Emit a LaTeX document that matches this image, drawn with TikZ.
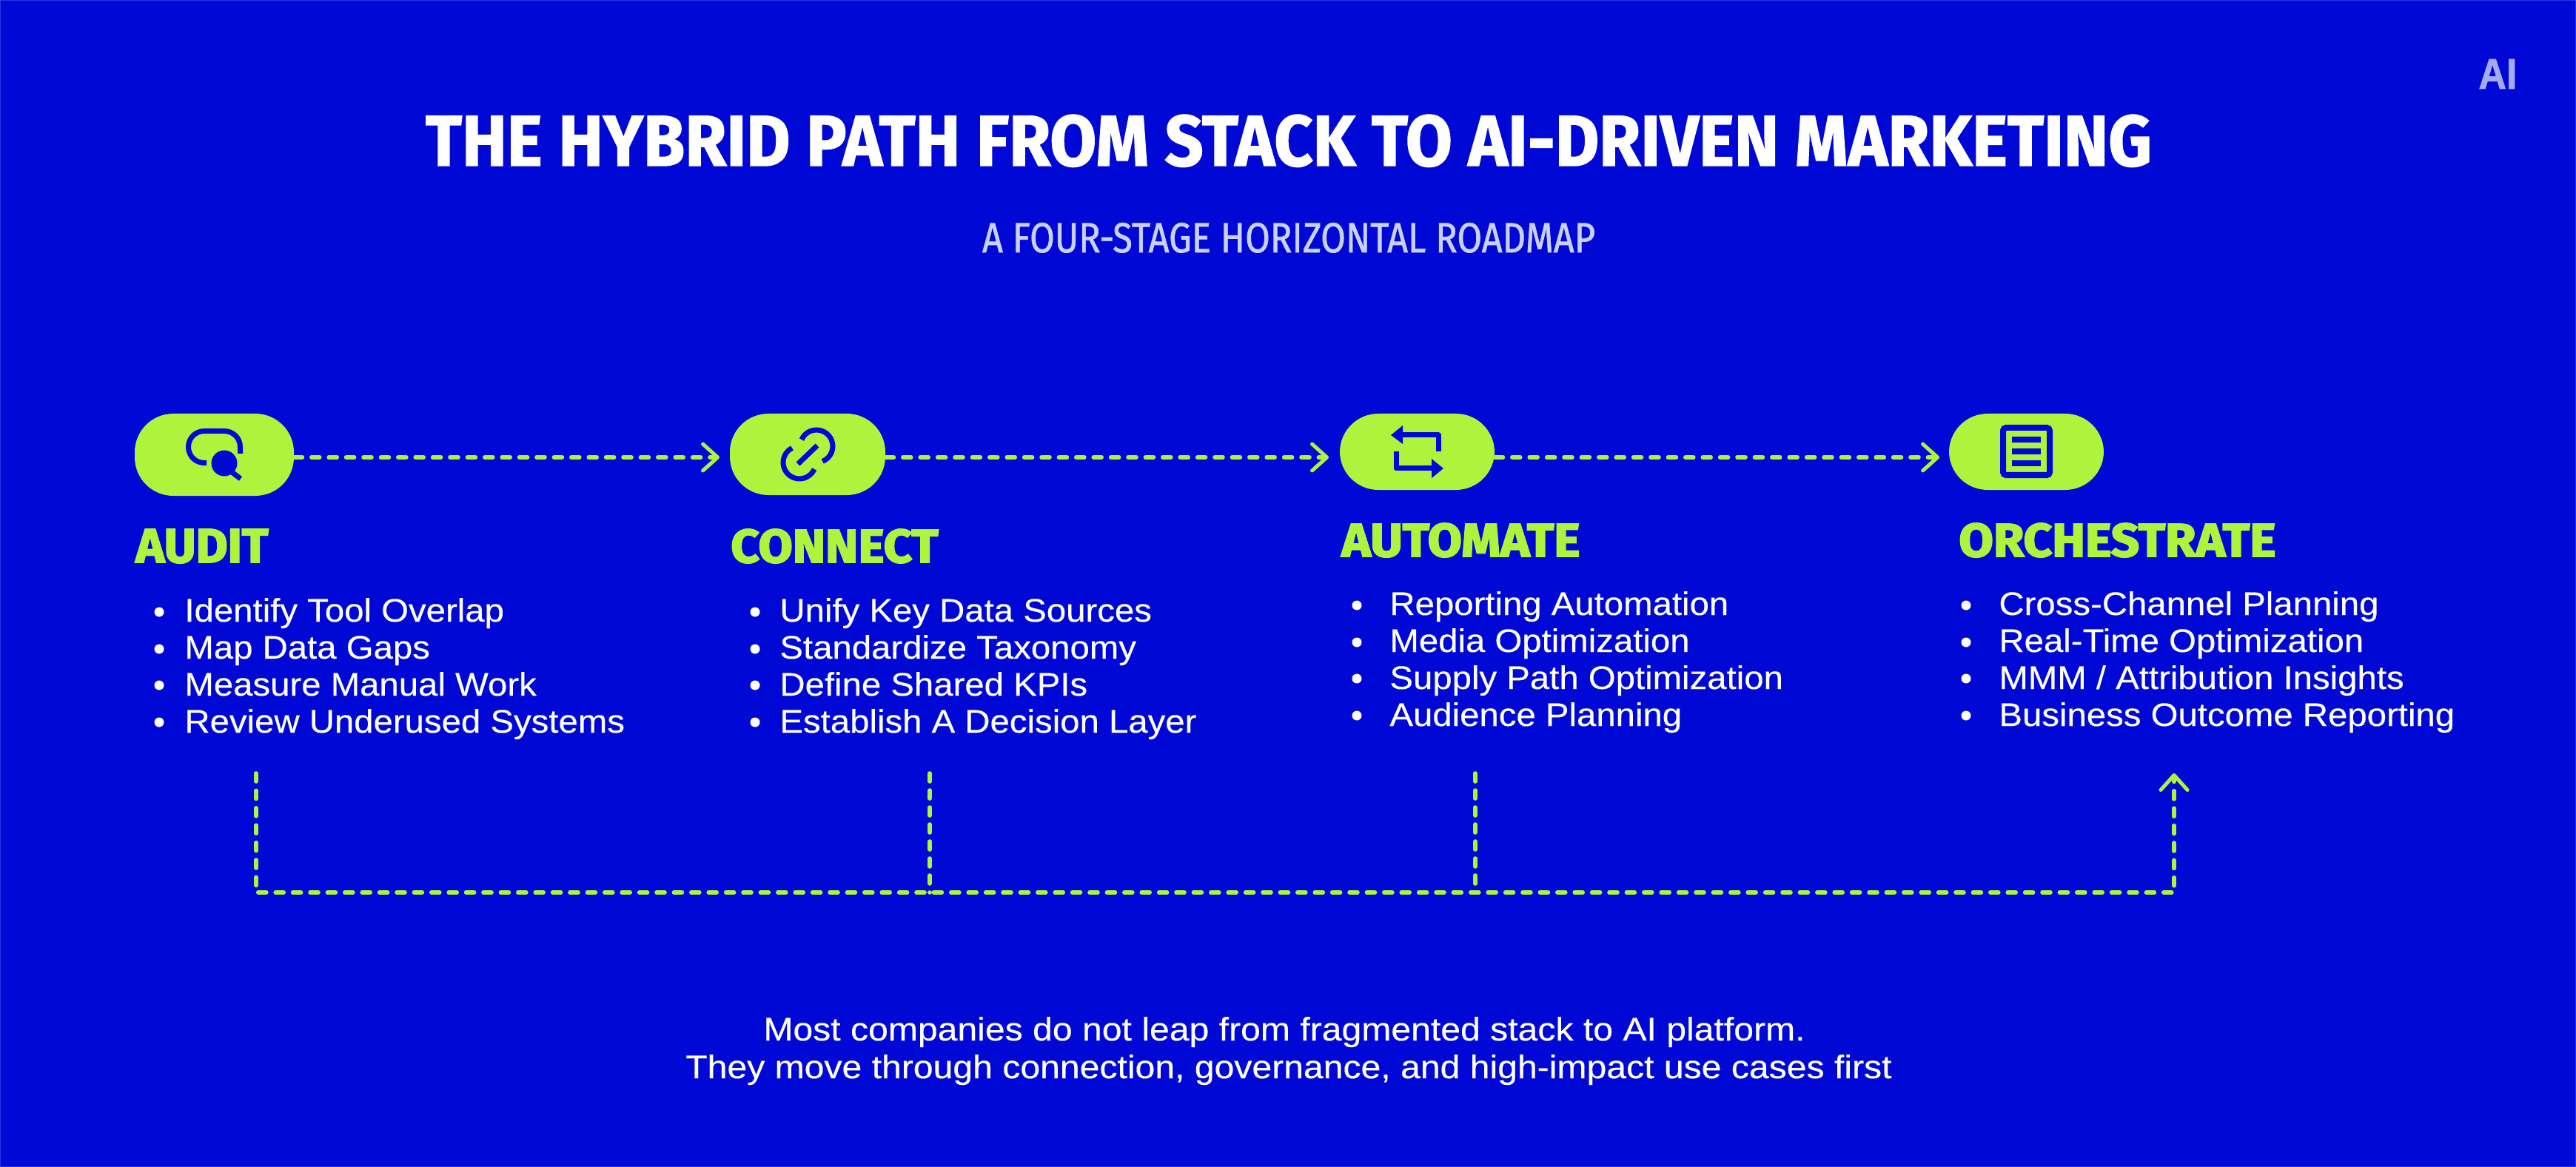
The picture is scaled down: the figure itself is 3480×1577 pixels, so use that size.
\documentclass[tikz,border=0pt]{standalone}
\usepackage{fontspec}
\usepackage{graphicx}
\usetikzlibrary{arrows.meta,calc}
\setmainfont{Liberation Sans}
\newfontfamily\titlef[FakeBold=1.5]{Fira Sans Bold}
\newfontfamily\headf[FakeBold=3]{Fira Sans Bold}
\newfontfamily\subf[FakeBold=1.2]{Fira Sans}
\newfontfamily\bodyf[FakeStretch=1.076,FakeBold=0.3]{Liberation Sans}
\newfontfamily\footf[FakeStretch=1.094,FakeBold=0.3]{Liberation Sans}
\newfontfamily\logof[FakeBold=1.5]{Liberation Sans Bold}
\definecolor{bgblue}{HTML}{0008D6}
\definecolor{edgeblue}{HTML}{2A34E0}
\definecolor{lime}{HTML}{AEF43C}
\definecolor{subcol}{HTML}{C9D0FA}
\definecolor{logocol}{HTML}{A3AAF2}
\newcommand{\fit}[3]{\resizebox{\dimexpr#1pt/2\relax}{\dimexpr#2pt/2\relax}{#3}}
\tikzset{
  pill/.style={fill=lime,draw=none,rounded corners=26pt,inner sep=0pt},
  flow/.style={draw=lime,line width=2.8pt,line cap=round,dash pattern=on 5.5pt off 6.2pt,
     -{Straight Barb[length=10pt,width=18pt,round,line width=2.5pt]}},
  branch/.style={draw=lime,line width=2.8pt,line cap=round,dash pattern=on 5.5pt off 6pt},
  head/.style={anchor=base west,inner sep=0pt,text=lime,font=\headf},
  item/.style={anchor=base west,inner sep=0pt,text=white,font=\bodyf\fontsize{22}{26}\selectfont},
  dot/.style={circle,fill=white,inner sep=0pt,minimum size=6.5pt},
  foot/.style={anchor=base,inner sep=0pt,text=white,font=\footf\fontsize{22}{26}\selectfont},
  ico/.style={draw=bgblue,line width=3.5pt},
  icofill/.style={fill=bgblue,draw=none},
}
\begin{document}
\begin{tikzpicture}[x=0.5pt,y=-0.5pt]
\useasboundingbox (0,0) rectangle (3480,1577);
\fill[bgblue] (0,0) rectangle (3480,1577);
\draw[edgeblue,line width=1pt] (0,0) rectangle (3480,1577);

% titles
\node[anchor=base,inner sep=0pt,text=white,font=\titlef] (title) at (1741,224) {\fit{2332}{69}{THE HYBRID PATH FROM STACK TO AI-DRIVEN MARKETING}};
\node[anchor=base,inner sep=0pt,text=subcol,font=\subf] (subtitle) at (1741,341) {\fit{828}{40}{A FOUR-STAGE HORIZONTAL ROADMAP}};
\node[anchor=base west,inner sep=0pt,text=logocol,font=\logof] (logo) at (3348,120) {\fit{52}{40}{AI}};

% pills
\node[pill,minimum width=107.5pt,minimum height=55.5pt] (audit) at (289.5,614.5) {};
\node[pill,minimum width=105pt,minimum height=55pt] (connect) at (1091,614) {};
\node[pill,minimum width=104.5pt,minimum height=51.5pt] (automate) at (1914.5,610.5) {};
\node[pill,minimum width=104.5pt,minimum height=51.5pt] (orchestrate) at (2737.5,610.5) {};

% flow arrows
\coordinate (startA) at (audit.east |- 0,618);
\coordinate (tipA) at (972,618);
\coordinate (startB) at (connect.east |- 0,618);
\coordinate (tipB) at (1795,618);
\coordinate (startC) at (automate.east |- 0,618);
\coordinate (tipC) at (2620,618);
\draw[flow] (startA) -- (tipA);
\draw[flow] (startB) -- (tipB);
\draw[flow] (startC) -- (tipC);

% audit icon
\draw[ico,rounded corners=10.7pt] (279,625.5) -- (254.5,625.5) -- (254.5,582.5) -- (324.5,582.5) -- (324.5,613);
\draw[fill=lime,draw=none] (303,626) circle[radius=22];
\draw[icofill] (303,626) circle[radius=17.5];
\draw[ico] (312,637) -- (325,647);
% connect icon
\draw[ico] (1078,627) -- (1104,602);
\draw[ico] (1103,603) ++(204:22) arc[start angle=204,end angle=428,radius=22];
\draw[ico] (1080,625) ++(243:22) arc[start angle=243,end angle=24,radius=22];
% automate icon
\draw[ico,line join=round] (1943,610) -- (1943,588) -- (1893,588);
\fill[bgblue] (1879,588) -- (1895,575) -- (1895,600) -- cycle;
\draw[ico,line join=round] (1886,610) -- (1886,633) -- (1936,633);
\fill[bgblue] (1950,633) -- (1934,620) -- (1934,646) -- cycle;
% orchestrate icon
\draw[draw=bgblue,line width=4pt,rounded corners=2pt] (2706,578) rectangle (2769,642);
\draw[ico,line width=4pt] (2718,594) -- (2757,594);
\draw[ico,line width=4pt] (2718,610) -- (2757,610);
\draw[ico,line width=4pt] (2718,626) -- (2757,626);

% headings
\node[head] (hA) at (183,760) {\fit{179}{45}{AUDIT}};
\node[head] (hB) at (987,760) {\fit{280}{45}{CONNECT}};
\node[head] (hC) at (1812,752) {\fit{322}{45}{AUTOMATE}};
\node[head] (hD) at (2646,752) {\fit{428}{45}{ORCHESTRATE}};

% audit list
\node[dot] (dA1) at (215,827) {};
\node[dot] (dA2) at (215,877) {};
\node[dot] (dA3) at (215,926) {};
\node[dot] (dA4) at (215,976) {};
\node[item] (tA1) at (249,840) {Identify Tool Overlap};
\node[item] (tA2) at (249,890) {Map Data Gaps};
\node[item] (tA3) at (249,940) {Measure Manual Work};
\node[item] (tA4) at (249,990) {Review Underused Systems};
% connect list
\node[dot] (dB1) at (1020,827) {};
\node[dot] (dB2) at (1020,877) {};
\node[dot] (dB3) at (1020,926) {};
\node[dot] (dB4) at (1020,976) {};
\node[item] (tB1) at (1053,840) {Unify Key Data Sources};
\node[item] (tB2) at (1053,890) {Standardize Taxonomy};
\node[item] (tB3) at (1053,940) {Define Shared KPIs};
\node[item] (tB4) at (1053,990) {Establish A Decision Layer};
% automate list
\node[dot] (dC1) at (1833,818) {};
\node[dot] (dC2) at (1833,868) {};
\node[dot] (dC3) at (1833,917) {};
\node[dot] (dC4) at (1833,967) {};
\node[item] (tC1) at (1877,831) {Reporting Automation};
\node[item] (tC2) at (1877,881) {Media Optimization};
\node[item] (tC3) at (1877,931) {Supply Path Optimization};
\node[item] (tC4) at (1877,981) {Audience Planning};
% orchestrate list
\node[dot] (dD1) at (2656,818) {};
\node[dot] (dD2) at (2656,868) {};
\node[dot] (dD3) at (2656,917) {};
\node[dot] (dD4) at (2656,967) {};
\node[item] (tD1) at (2700,831) {Cross-Channel Planning};
\node[item] (tD2) at (2700,881) {Real-Time Optimization};
\node[item] (tD3) at (2700,931) {MMM / Attribution Insights};
\node[item] (tD4) at (2700,981) {Business Outcome Reporting};

% bottom connector
\coordinate (bA) at (346,1045);
\coordinate (bB) at (1256,1045);
\coordinate (bC) at (1993,1045);
\coordinate (bD) at (2937,1045);
\coordinate (rail) at (0,1206);
\draw[flow] (bA) -- (bA |- rail) -- (bD |- rail) -- (bD);
\draw[branch] (bB) -- (bB |- rail);
\draw[branch] (bC) -- (bC |- rail);

% footer
\node[foot] (f1) at (1735,1406) {Most companies do not leap from fragmented stack to AI platform.};
\node[foot] (f2) at (1741,1457) {They move through connection, governance, and high-impact use cases first};
\end{tikzpicture}
\end{document}
